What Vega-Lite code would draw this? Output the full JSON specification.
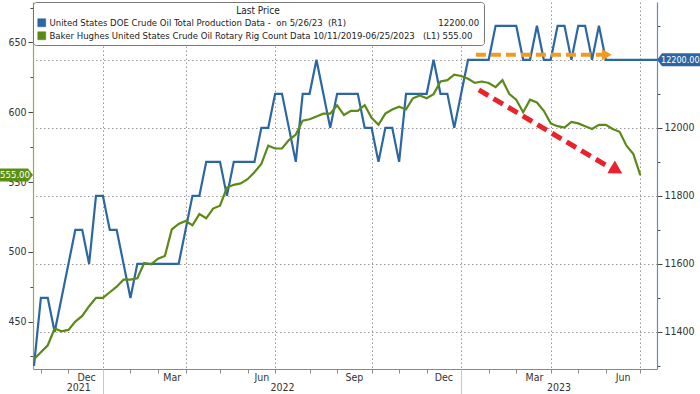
{
  "$schema": "https://vega.github.io/schema/vega-lite/v6.json",
  "width": 624,
  "height": 367,
  "autosize": {"type": "none"},
  "padding": {"left": 33, "top": 2, "right": 43, "bottom": 25},
  "background": "white",
  "config": {
    "view": {"stroke": null},
    "font": "Liberation Sans Narrow, DejaVu Sans Condensed, Arial Narrow, sans-serif",
    "axis": {"labelFont": "Liberation Sans Narrow, DejaVu Sans Condensed, Arial Narrow, sans-serif", "labelFontSize": 10.5, "labelColor": "#333", "title": null},
    "legend": {"labelFont": "Liberation Sans Narrow, DejaVu Sans Condensed, Arial Narrow, sans-serif", "titleFont": "Liberation Sans Narrow, DejaVu Sans Condensed, Arial Narrow, sans-serif"}
  },
  "datasets": {
    "production": [
      {"date": "2021-10-22", "value": 11300}, {"date": "2021-10-29", "value": 11500}, {"date": "2021-11-05", "value": 11500},
      {"date": "2021-11-12", "value": 11400}, {"date": "2021-11-19", "value": 11500}, {"date": "2021-11-26", "value": 11600},
      {"date": "2021-12-03", "value": 11700}, {"date": "2021-12-10", "value": 11700}, {"date": "2021-12-17", "value": 11600},
      {"date": "2021-12-24", "value": 11800}, {"date": "2021-12-31", "value": 11800}, {"date": "2022-01-07", "value": 11700},
      {"date": "2022-01-14", "value": 11700}, {"date": "2022-01-21", "value": 11600}, {"date": "2022-01-28", "value": 11500},
      {"date": "2022-02-04", "value": 11600}, {"date": "2022-02-11", "value": 11600}, {"date": "2022-02-18", "value": 11600},
      {"date": "2022-02-25", "value": 11600}, {"date": "2022-03-04", "value": 11600}, {"date": "2022-03-11", "value": 11600},
      {"date": "2022-03-18", "value": 11600}, {"date": "2022-03-25", "value": 11700}, {"date": "2022-04-01", "value": 11800},
      {"date": "2022-04-08", "value": 11800}, {"date": "2022-04-15", "value": 11900}, {"date": "2022-04-22", "value": 11900},
      {"date": "2022-04-29", "value": 11900}, {"date": "2022-05-06", "value": 11800}, {"date": "2022-05-13", "value": 11900},
      {"date": "2022-05-20", "value": 11900}, {"date": "2022-05-27", "value": 11900}, {"date": "2022-06-03", "value": 11900},
      {"date": "2022-06-10", "value": 12000}, {"date": "2022-06-17", "value": 12000}, {"date": "2022-06-24", "value": 12100},
      {"date": "2022-07-01", "value": 12100}, {"date": "2022-07-08", "value": 12000}, {"date": "2022-07-15", "value": 11900},
      {"date": "2022-07-22", "value": 12100}, {"date": "2022-07-29", "value": 12100}, {"date": "2022-08-05", "value": 12200},
      {"date": "2022-08-12", "value": 12100}, {"date": "2022-08-19", "value": 12000}, {"date": "2022-08-26", "value": 12100},
      {"date": "2022-09-02", "value": 12100}, {"date": "2022-09-09", "value": 12100}, {"date": "2022-09-16", "value": 12100},
      {"date": "2022-09-23", "value": 12000}, {"date": "2022-09-30", "value": 12000}, {"date": "2022-10-07", "value": 11900},
      {"date": "2022-10-14", "value": 12000}, {"date": "2022-10-21", "value": 12000}, {"date": "2022-10-28", "value": 11900},
      {"date": "2022-11-04", "value": 12100}, {"date": "2022-11-11", "value": 12100}, {"date": "2022-11-18", "value": 12100},
      {"date": "2022-11-25", "value": 12100}, {"date": "2022-12-02", "value": 12200}, {"date": "2022-12-09", "value": 12100},
      {"date": "2022-12-16", "value": 12100}, {"date": "2022-12-23", "value": 12000}, {"date": "2022-12-30", "value": 12100},
      {"date": "2023-01-06", "value": 12200}, {"date": "2023-01-13", "value": 12200}, {"date": "2023-01-20", "value": 12200},
      {"date": "2023-01-27", "value": 12200}, {"date": "2023-02-03", "value": 12300}, {"date": "2023-02-10", "value": 12300},
      {"date": "2023-02-17", "value": 12300}, {"date": "2023-02-24", "value": 12300}, {"date": "2023-03-03", "value": 12200},
      {"date": "2023-03-10", "value": 12200}, {"date": "2023-03-17", "value": 12300}, {"date": "2023-03-24", "value": 12200},
      {"date": "2023-03-31", "value": 12200}, {"date": "2023-04-07", "value": 12300}, {"date": "2023-04-14", "value": 12300},
      {"date": "2023-04-21", "value": 12200}, {"date": "2023-04-28", "value": 12300}, {"date": "2023-05-05", "value": 12300},
      {"date": "2023-05-12", "value": 12200}, {"date": "2023-05-19", "value": 12300}, {"date": "2023-05-26", "value": 12200},
      {"date": "2023-07-17", "value": 12200}
    ],
    "rigs": [
      {"date": "2021-10-22", "value": 423}, {"date": "2021-10-29", "value": 428}, {"date": "2021-11-05", "value": 433},
      {"date": "2021-11-12", "value": 445}, {"date": "2021-11-19", "value": 443}, {"date": "2021-11-26", "value": 444},
      {"date": "2021-12-03", "value": 450}, {"date": "2021-12-10", "value": 454}, {"date": "2021-12-17", "value": 461},
      {"date": "2021-12-24", "value": 467}, {"date": "2021-12-31", "value": 467}, {"date": "2022-01-07", "value": 471},
      {"date": "2022-01-14", "value": 475}, {"date": "2022-01-21", "value": 480}, {"date": "2022-01-28", "value": 480},
      {"date": "2022-02-04", "value": 481}, {"date": "2022-02-11", "value": 492}, {"date": "2022-02-18", "value": 491},
      {"date": "2022-02-25", "value": 495}, {"date": "2022-03-04", "value": 497}, {"date": "2022-03-11", "value": 516},
      {"date": "2022-03-18", "value": 520}, {"date": "2022-03-25", "value": 522}, {"date": "2022-04-01", "value": 519},
      {"date": "2022-04-08", "value": 527}, {"date": "2022-04-15", "value": 524}, {"date": "2022-04-22", "value": 531},
      {"date": "2022-04-29", "value": 533}, {"date": "2022-05-06", "value": 546}, {"date": "2022-05-13", "value": 548},
      {"date": "2022-05-20", "value": 549}, {"date": "2022-05-27", "value": 552}, {"date": "2022-06-03", "value": 557},
      {"date": "2022-06-10", "value": 563}, {"date": "2022-06-17", "value": 576}, {"date": "2022-06-24", "value": 574},
      {"date": "2022-07-01", "value": 574}, {"date": "2022-07-08", "value": 580}, {"date": "2022-07-15", "value": 584},
      {"date": "2022-07-22", "value": 594}, {"date": "2022-07-29", "value": 595}, {"date": "2022-08-05", "value": 597},
      {"date": "2022-08-12", "value": 599}, {"date": "2022-08-19", "value": 599}, {"date": "2022-08-26", "value": 605},
      {"date": "2022-09-02", "value": 598}, {"date": "2022-09-09", "value": 601}, {"date": "2022-09-16", "value": 601},
      {"date": "2022-09-23", "value": 605}, {"date": "2022-09-30", "value": 596}, {"date": "2022-10-07", "value": 591},
      {"date": "2022-10-14", "value": 599}, {"date": "2022-10-21", "value": 602}, {"date": "2022-10-28", "value": 604},
      {"date": "2022-11-04", "value": 602}, {"date": "2022-11-11", "value": 610}, {"date": "2022-11-18", "value": 612},
      {"date": "2022-11-25", "value": 610}, {"date": "2022-12-02", "value": 613}, {"date": "2022-12-09", "value": 622},
      {"date": "2022-12-16", "value": 623}, {"date": "2022-12-23", "value": 627}, {"date": "2022-12-30", "value": 626},
      {"date": "2023-01-06", "value": 624}, {"date": "2023-01-13", "value": 621}, {"date": "2023-01-20", "value": 622},
      {"date": "2023-01-27", "value": 621}, {"date": "2023-02-03", "value": 618}, {"date": "2023-02-10", "value": 623},
      {"date": "2023-02-17", "value": 613}, {"date": "2023-02-24", "value": 609}, {"date": "2023-03-03", "value": 600},
      {"date": "2023-03-10", "value": 609}, {"date": "2023-03-17", "value": 607}, {"date": "2023-03-24", "value": 601},
      {"date": "2023-03-31", "value": 592}, {"date": "2023-04-07", "value": 590}, {"date": "2023-04-14", "value": 589},
      {"date": "2023-04-21", "value": 593}, {"date": "2023-04-28", "value": 592}, {"date": "2023-05-05", "value": 590},
      {"date": "2023-05-12", "value": 588}, {"date": "2023-05-19", "value": 591}, {"date": "2023-05-26", "value": 591},
      {"date": "2023-06-02", "value": 588}, {"date": "2023-06-09", "value": 586}, {"date": "2023-06-16", "value": 576},
      {"date": "2023-06-23", "value": 570}, {"date": "2023-06-30", "value": 555}
    ]
  },
  "resolve": {"scale": {"y": "independent"}, "axis": {"x": "independent", "y": "independent"}},
  "layer": [
    {
      "data": {"name": "production"},
      "mark": {"type": "line", "strokeWidth": 2.2, "interpolate": "linear"},
      "encoding": {
        "x": {"field": "date", "type": "temporal",
          "scale": {"type": "utc", "domain": [{"year": 2021, "month": 10, "date": 21, "utc": true}, {"year": 2023, "month": 7, "date": 17, "utc": true}]},
          "axis": {"orient": "bottom", "labels": false, "tickSize": 4, "tickColor": "#888", "domainColor": "#888", "grid": true, "gridColor": "#999", "gridDash": [1.5, 2.5],
            "gridOpacity": {"condition": {"test": "utcmonth(datum.value) % 3 == 2", "value": 1}, "value": 0},
            "values": [
              {"year": 2021, "month": 10, "date": 29, "utc": true}, {"year": 2021, "month": 11, "date": 26, "utc": true}, {"year": 2021, "month": 12, "date": 31, "utc": true},
              {"year": 2022, "month": 1, "date": 28, "utc": true}, {"year": 2022, "month": 2, "date": 25, "utc": true}, {"year": 2022, "month": 3, "date": 25, "utc": true},
              {"year": 2022, "month": 4, "date": 29, "utc": true}, {"year": 2022, "month": 5, "date": 27, "utc": true}, {"year": 2022, "month": 6, "date": 24, "utc": true},
              {"year": 2022, "month": 7, "date": 29, "utc": true}, {"year": 2022, "month": 8, "date": 26, "utc": true}, {"year": 2022, "month": 9, "date": 30, "utc": true},
              {"year": 2022, "month": 10, "date": 28, "utc": true}, {"year": 2022, "month": 11, "date": 25, "utc": true}, {"year": 2022, "month": 12, "date": 30, "utc": true},
              {"year": 2023, "month": 1, "date": 27, "utc": true}, {"year": 2023, "month": 2, "date": 24, "utc": true}, {"year": 2023, "month": 3, "date": 31, "utc": true},
              {"year": 2023, "month": 4, "date": 28, "utc": true}, {"year": 2023, "month": 5, "date": 26, "utc": true}, {"year": 2023, "month": 6, "date": 30, "utc": true}
            ]}},
        "y": {"field": "value", "type": "quantitative",
          "scale": {"domain": [11291, 12370], "nice": false, "zero": false},
          "axis": {"orient": "right", "values": [11300, 11400, 11500, 11600, 11700, 11800, 11900, 12000, 12100, 12200, 12300], "format": "d",
            "labelExpr": "datum.value % 200 == 0 && datum.value != 12200 ? datum.label : ''",
            "tickSize": {"condition": {"test": "datum.value % 200 == 0", "value": 5}, "value": 3},
            "tickColor": "#444", "domainColor": "#6a8bb0", "domainWidth": 1.2, "labelPadding": 2,
            "grid": true, "gridColor": "#999", "gridDash": [1.5, 2.5],
            "gridOpacity": {"condition": {"test": "datum.value % 200 == 0", "value": 1}, "value": 0}}},
        "color": {"datum": "DOE", "type": "nominal",
          "scale": {"domain": ["DOE", "BH"], "range": ["#2d67a3", "#5b8a18"]},
          "legend": {"title": "Last Price", "orient": "top-left", "offset": 0, "fillColor": "white", "strokeColor": "#777", "cornerRadius": 3, "padding": 4,
            "titleAnchor": "middle", "titleFontSize": 10, "titleFontWeight": "normal", "titleColor": "#222", "titlePadding": 2,
            "labelFontSize": 9.5, "labelColor": "#222", "labelLimit": 700, "symbolType": "square", "symbolSize": 64, "rowPadding": 2, "labelOffset": 3,
            "labelExpr": "datum.label == 'DOE' ? 'United States DOE Crude Oil Total Production Data -\u00a0 on 5/26/23\u00a0 (R1)' + pad('', 34, '\u00a0') + '12200.00' : 'Baker Hughes United States Crude Oil Rotary Rig Count Data 10/11/2019-06/25/2023' + pad('', 3, '\u00a0') + '(L1) 555.00'",
            "encode": {"symbols": {"update": {"fill": {"scale": "color", "field": "value"}, "stroke": {"value": "#333"}, "strokeWidth": {"value": 0.5}}}}}}
      }
    },
    {
      "data": {"name": "rigs"},
      "mark": {"type": "line", "strokeWidth": 2.2},
      "encoding": {
        "x": {"field": "date", "type": "temporal",
          "axis": {"orient": "bottom", "ticks": false, "domain": false, "grid": false, "format": "%b", "labelPadding": 3, "labelFlush": false, "labelOverlap": false,
            "values": [
              {"year": 2021, "month": 12, "date": 14, "utc": true}, {"year": 2022, "month": 3, "date": 11, "utc": true}, {"year": 2022, "month": 6, "date": 10, "utc": true},
              {"year": 2022, "month": 9, "date": 12, "utc": true}, {"year": 2022, "month": 12, "date": 12, "utc": true}, {"year": 2023, "month": 3, "date": 14, "utc": true},
              {"year": 2023, "month": 6, "date": 12, "utc": true}
            ]}},
        "y": {"field": "value", "type": "quantitative",
          "scale": {"domain": [416, 679], "nice": false, "zero": false},
          "axis": {"orient": "left", "values": [425, 450, 475, 500, 525, 550, 575, 600, 625, 650, 675],
            "labelExpr": "datum.value % 50 == 0 ? datum.label : ''",
            "tickSize": {"condition": {"test": "datum.value % 50 == 0", "value": 5}, "value": 3},
            "tickColor": "#444", "domainColor": "#9aab4c", "domainWidth": 1.2, "labelPadding": 2, "grid": false}},
        "color": {"datum": "BH", "type": "nominal"}
      }
    },
    {
      "data": {"values": [{"date": "2023-01-14", "value": 12215}, {"date": "2023-05-24", "value": 12215}]},
      "mark": {"type": "line", "color": "#f29a1f", "strokeWidth": 4, "strokeDash": [10, 5]},
      "encoding": {
        "x": {"field": "date", "type": "temporal",
          "axis": {"orient": "bottom", "labels": false, "domain": false, "grid": false, "tickSize": 25, "tickColor": "#c8c8c8",
            "values": [{"year": 2021, "month": 12, "date": 31, "utc": true}, {"year": 2022, "month": 12, "date": 30, "utc": true}]}},
        "y": {"field": "value", "type": "quantitative", "scale": {"domain": [11291, 12370], "nice": false, "zero": false}, "axis": null}
      }
    },
    {
      "data": {"values": [{"date": "2023-05-27", "value": 12215}]},
      "mark": {"type": "point", "shape": "triangle-right", "filled": true, "opacity": 1, "color": "#f29a1f", "size": 130},
      "encoding": {
        "x": {"field": "date", "type": "temporal", "axis": null},
        "y": {"field": "value", "type": "quantitative", "scale": {"domain": [11291, 12370], "nice": false, "zero": false}, "axis": null}
      }
    },
    {
      "data": {"values": [{"date": "2023-01-17", "value": 616}, {"date": "2023-05-31", "value": 560}]},
      "mark": {"type": "line", "color": "#e8232b", "strokeWidth": 5, "strokeDash": [11, 6]},
      "encoding": {
        "x": {"field": "date", "type": "temporal",
          "axis": {"orient": "bottom", "ticks": false, "domain": false, "grid": false, "format": "%Y", "labelPadding": 13.5, "labelFlush": false, "labelOverlap": false,
            "values": [{"year": 2021, "month": 12, "date": 6, "utc": true}, {"year": 2022, "month": 7, "date": 1, "utc": true}, {"year": 2023, "month": 4, "date": 8, "utc": true}]}},
        "y": {"field": "value", "type": "quantitative", "scale": {"domain": [416, 679], "nice": false, "zero": false}, "axis": null}
      }
    },
    {
      "data": {"values": [{"date": "2023-06-06", "value": 558.5}]},
      "mark": {"type": "point", "shape": "triangle-right", "filled": true, "opacity": 1, "color": "#e8232b", "size": 220, "angle": 30.5},
      "encoding": {
        "x": {"field": "date", "type": "temporal", "axis": null},
        "y": {"field": "value", "type": "quantitative", "scale": {"domain": [416, 679], "nice": false, "zero": false}, "axis": null}
      }
    },
    {
      "data": {"values": [{"date": "2023-07-17", "value": 12200, "label": "12200.00"}]},
      "layer": [
        {"mark": {"type": "point", "shape": "M0,0L5,-6.5L48,-6.5L48,6.5L5,6.5Z", "size": 4, "filled": true, "opacity": 1, "color": "#2b66a3", "strokeWidth": 0}},
        {"mark": {"type": "text", "align": "left", "baseline": "middle", "dx": 4, "color": "white", "fontSize": 9}, "encoding": {"text": {"field": "label"}}}
      ],
      "encoding": {
        "x": {"field": "date", "type": "temporal", "axis": null},
        "y": {"field": "value", "type": "quantitative", "scale": {"domain": [11291, 12370], "nice": false, "zero": false}, "axis": null}
      }
    },
    {
      "data": {"values": [{"date": "2021-10-21", "value": 555, "label": "555.00"}]},
      "layer": [
        {"mark": {"type": "point", "shape": "M0,0L-5,-6.5L-40,-6.5L-40,6.5L-5,6.5Z", "size": 4, "filled": true, "opacity": 1, "color": "#5b8f14", "strokeWidth": 0}},
        {"mark": {"type": "text", "align": "right", "baseline": "middle", "dx": -3, "color": "white", "fontSize": 9.5}, "encoding": {"text": {"field": "label"}}}
      ],
      "encoding": {
        "x": {"field": "date", "type": "temporal", "axis": null},
        "y": {"field": "value", "type": "quantitative", "scale": {"domain": [416, 679], "nice": false, "zero": false}, "axis": null}
      }
    }
  ]
}
